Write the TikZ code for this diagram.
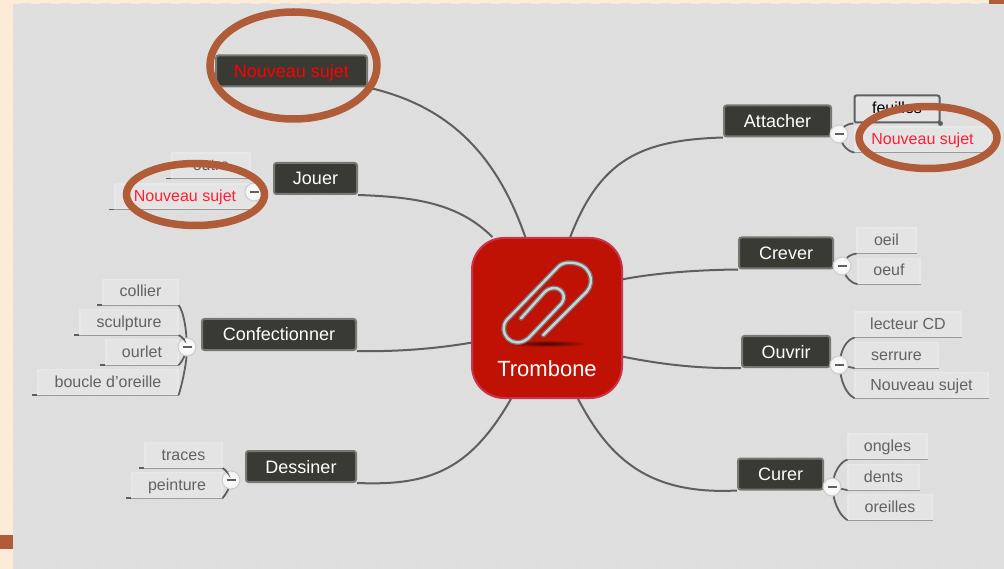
\documentclass[tikz,border=0pt]{standalone}
\usepackage{fontspec}
\setmainfont{Liberation Sans}
\usepackage{xcolor}
\usepackage{tikz}
\usetikzlibrary{shapes.geometric}

\definecolor{cream}{HTML}{FBEBD7}
\definecolor{board}{HTML}{DEDEDE}
\definecolor{stripe}{HTML}{DFDFDF}
\definecolor{rust}{HTML}{B05C38}
\definecolor{topicfill}{HTML}{3A3A35}
\definecolor{topicedge}{HTML}{777773}
\definecolor{leaffill}{HTML}{E4E4E4}
\definecolor{leafedge}{HTML}{E8E8E8}
\definecolor{leaftext}{HTML}{626262}
\definecolor{wire}{HTML}{5F5F5F}
\definecolor{hubfill}{HTML}{BF1204}
\definecolor{hubedge}{HTML}{C8344C}
\definecolor{newtext}{HTML}{FF1E32}

\tikzset{
    topic/.style={draw=topicedge, line width=2pt, fill=topicfill, rounded corners=2.5pt, inner sep=0pt,
        minimum height=31pt, text height=15pt, text depth=2pt, text=white, font=\fontsize{18}{18}\selectfont},
    leaf/.style={draw=leafedge, line width=1.2pt, fill=leaffill, inner sep=0pt, minimum height=25pt,
        text height=12.5pt, text depth=2.5pt, text=leaftext, font=\fontsize{16}{16}\selectfont,
        append after command={(\tikzlastnode.south west) edge[leafline] (\tikzlastnode.south east)}},
    leftleaf/.style={leaf, append after command={(\tikzlastnode.south west) edge[leaftick] ++(-5,0)}},
    leafline/.style={draw=gray!80, line width=1pt},
    leaftick/.style={draw=wire, line width=1.6pt},
    wire/.style={draw=wire, line width=2pt},
    twig/.style={draw=wire, line width=1.8pt},
    minus/.style={circle, draw=black!20, line width=1pt, shade, inner color=white, outer color=black!5,
        minimum size=18pt, inner sep=0pt},
    ring/.style={draw=rust, line width=7.5pt, ellipse, inner sep=0pt},
}

\begin{document}
\begin{tikzpicture}[x=1pt, y=-1pt]
    \useasboundingbox (0,0) rectangle (1004,569);

    % Page and board
    \fill[cream] (0,0) rectangle (1004,569);
    \fill[board] (13,4) rectangle (1004,569);
    \begin{scope}
        \clip (13,4) rectangle (1004,569);
        \foreach \k in {-560,-540,...,1000}
            \draw[stripe, line width=7pt] (\k,569) -- (\k+569,0);
    \end{scope}
    \fill[rust] (989,0) rectangle (1004,4);
    \fill[rust] (0,535) rectangle (13,549);

    % Centre
    \node[draw=hubedge, line width=2pt, fill=hubfill, rounded corners=32pt, minimum width=150pt, minimum height=160pt, inner sep=0pt] (trombone) at (547,318) {};
    \shade[inner color=black!65!hubfill, outer color=hubfill] (547,343.5) ellipse (42 and 3.5);
    \draw[draw=black!55, double=black!18, double distance=2.4pt, line width=1.3pt, line cap=round, line join=round]
        (543.3,335) -- (586.7,291.7) .. controls (596,281) and (590,262) .. (568.3,262.7)
        .. controls (564,263) and (561,264) .. (558.3,266.7) -- (506.7,320)
        .. controls (497,332) and (512,351) .. (528.3,338.3) -- (561.7,303.3)
        .. controls (569,293) and (556,282) .. (545,291.7) -- (521,318.3);
    \node[text=white, font=\fontsize{22}{22}\selectfont] (tromboneText) at (547,369) {Trombone};

    % Left topics
    \node[topic, minimum width=151pt] (sujetTopic) at (291.5,71) {\textcolor{red}{Nouveau sujet}};
    \node[topic, minimum width=83pt] (jouer) at (315.5,178.5) {Jouer};
    \node[topic, minimum width=154pt] (confectionner) at (279,334.5) {Confectionner};
    \node[topic, minimum width=110pt] (dessiner) at (301,466.5) {Dessiner};

    % Right topics
    \node[topic, minimum width=107pt] (attacher) at (777.5,121) {Attacher};
    \node[topic, minimum width=94pt] (crever) at (786,253) {Crever};
    \node[topic, minimum width=88pt] (ouvrir) at (786,351.5) {Ouvrir};
    \node[topic, minimum width=85pt] (curer) at (780.5,474) {Curer};

    % Branches
    \draw[wire] (sujetTopic.south east) .. controls (445,105) and (495,150) .. (trombone.105);
    \draw[wire] (jouer.south east) .. controls (420,197) and (460,205) .. (trombone.124);
    \draw[wire] (confectionner.south east) .. controls (400,352) and (440,348) .. (trombone.198);
    \draw[wire] (dessiner.south east) .. controls (430,486) and (470,470) .. (trombone.246);
    \draw[wire] (attacher.south west) .. controls (640,140) and (600,160) .. (trombone.74);
    \draw[wire] (crever.south west) .. controls (690,270) and (650,274) .. (trombone.27);
    \draw[wire] (ouvrir.south west) .. controls (690,369) and (650,362) .. (trombone.-27);
    \draw[wire] (curer.south west) .. controls (650,495) and (610,460) .. (trombone.-69);

    % Leaves of Jouer
    \node[leftleaf, minimum width=78pt] (outre) at (211,165.5) {outre};
    \node[leftleaf, minimum width=140pt] (sujetJouer) at (185,196.5) {\textcolor{newtext}{Nouveau sujet}};

    % Leaves of Confectionner
    \node[leftleaf, minimum width=75pt] (collier) at (140.5,292) {collier};
    \node[leftleaf, minimum width=98pt] (sculpture) at (129,322) {sculpture};
    \node[leftleaf, minimum width=72pt] (ourlet) at (142,352) {ourlet};
    \node[leftleaf, minimum width=140pt] (boucle) at (108,382) {boucle d'oreille};

    % Leaves of Dessiner
    \node[leftleaf, minimum width=77pt] (traces) at (183.5,455) {traces};
    \node[leftleaf, minimum width=90pt] (peinture) at (177,485) {peinture};

    % Leaves of Attacher
    \node[draw=wire, line width=2pt, fill=leaffill, rounded corners=2pt, minimum width=85pt, minimum height=27pt, inner sep=0pt, text height=12.5pt, text depth=2.5pt, font=\fontsize{16}{16}\selectfont] (feuilles) at (897,109) {feuilles};
    \node[circle, fill=wire, minimum size=5pt, inner sep=0pt] (feuillesGrip) at (feuilles.south east) {};
    \node[leaf, minimum width=135pt] (sujetAttacher) at (922.5,139.5) {\textcolor{newtext}{Nouveau sujet}};

    % Leaves of Crever
    \node[leaf, minimum width=59pt] (oeil) at (886.5,240.5) {oeil};
    \node[leaf, minimum width=62pt] (oeuf) at (889,271) {oeuf};

    % Leaves of Ouvrir
    \node[leaf, minimum width=106pt] (lecteur) at (908,324.5) {lecteur CD};
    \node[leaf, minimum width=83pt] (serrure) at (896.5,355) {serrure};
    \node[leaf, minimum width=133pt] (sujetOuvrir) at (921.5,385) {Nouveau sujet};

    % Leaves of Curer
    \node[leaf, minimum width=79pt] (ongles) at (887.5,446.5) {ongles};
    \node[leaf, minimum width=71pt] (dents) at (883.5,477) {dents};
    \node[leaf, minimum width=84pt] (oreilles) at (890,507) {oreilles};

    % Fold buttons
    \node[minus] (minusJouer) at (254,192) {};
    \node[minus] (minusConfectionner) at (187,347) {};
    \node[minus] (minusDessiner) at (231,480) {};
    \node[minus] (minusAttacher) at (839,134) {};
    \node[minus] (minusCrever) at (842,266) {};
    \node[minus] (minusOuvrir) at (839,365) {};
    \node[minus] (minusCurer) at (832,487) {};
    \foreach \b in {Jouer,Confectionner,Dessiner,Attacher,Crever,Ouvrir,Curer}
        \draw[wire, line width=2pt] ([xshift=-4.5pt]minus\b.center) -- ([xshift=4.5pt]minus\b.center);

    % Twigs
    \draw[twig] (minusConfectionner) .. controls (186,330) and (184,312) .. (collier.south east);
    \draw[twig] (minusConfectionner) .. controls (185,342) and (183,337) .. (sculpture.south east);
    \draw[twig] (minusConfectionner) .. controls (184,357) and (182,362) .. (ourlet.south east);
    \draw[twig] (minusConfectionner) .. controls (186,365) and (182,385) .. (boucle.south east);
    \draw[twig] (minusDessiner) .. controls (228,474) and (226,470) .. (traces.south east);
    \draw[twig] (minusDessiner) .. controls (228,490) and (226,494) .. (peinture.south east);
    \draw[twig] (minusAttacher) .. controls (843,128) and (848,123) .. (feuilles.south west);
    \draw[twig] (minusAttacher) .. controls (843,145) and (848,152) .. (sujetAttacher.south west);
    \draw[twig] (minusCrever) .. controls (846,259) and (850,254) .. (oeil.south west);
    \draw[twig] (minusCrever) .. controls (846,276) and (850,283) .. (oeuf.south west);
    \draw[twig] (minusOuvrir) .. controls (842,350) and (846,340) .. (lecteur.south west);
    \draw[twig] (minusOuvrir) -- (serrure.south west);
    \draw[twig] (minusOuvrir) .. controls (842,382) and (846,394) .. (sujetOuvrir.south west);
    \draw[twig] (minusCurer) .. controls (835,472) and (840,462) .. (ongles.south west);
    \draw[twig] (minusCurer) -- (dents.south west);
    \draw[twig] (minusCurer) .. controls (835,504) and (840,516) .. (oreilles.south west);

    % Marks on the picture
    \node[ring, minimum width=167pt, minimum height=107pt] (ringTopic) at (293.5,65.5) {};
    \node[ring, minimum width=138pt, minimum height=62pt] (ringJouer) at (195.5,194.5) {};
    \node[ring, minimum width=138pt, minimum height=62pt] (ringAttacher) at (928,137.5) {};
\end{tikzpicture}
\end{document}
